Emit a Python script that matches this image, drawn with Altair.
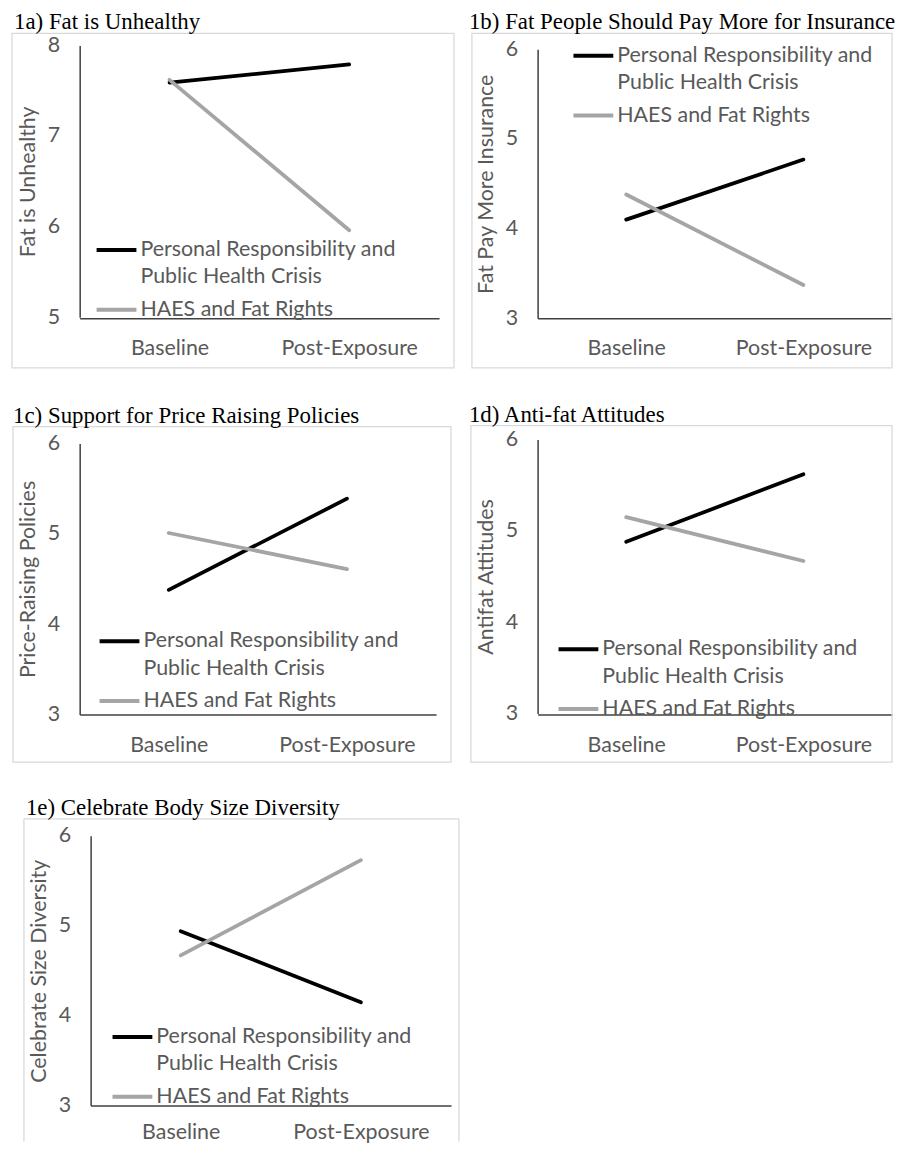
import altair as alt
import pandas as pd

categories = ["Baseline", "Post-Exposure"]
groups = ["Personal Responsibility and Public Health Crisis", "HAES and Fat Rights"]
group_label_lines = ["Personal Responsibility and", "Public Health Crisis"]

titles = [
    "1a) Fat is Unhealthy",
    "1b) Fat People Should Pay More for Insurance",
    "1c) Support for Price Raising Policies",
    "1d) Anti-fat Attitudes",
    "1e) Celebrate Body Size Diversity",
]
y_titles = [
    "Fat is Unhealthy",
    "Fat Pay More Insurance",
    "Price-Raising Policies",
    "Antifat Attitudes",
    "Celebrate Size Diversity",
]
y_domains = [[5, 8], [3, 6], [3, 6], [3, 6], [3, 6]]
y_ticks = [[5, 6, 7, 8], [3, 4, 5, 6], [3, 4, 5, 6], [3, 4, 5, 6], [3, 4, 5, 6]]

pr_values = [[7.59, 7.79], [4.10, 4.77], [4.38, 5.39], [4.88, 5.62], [4.94, 4.15]]
haes_values = [[7.62, 5.96], [4.38, 3.37], [5.01, 4.61], [5.15, 4.67], [4.67, 5.73]]

colors = ["#000000", "#a5a5a5"]

# layout per panel: plot size, pixel ranges, axis shifts, frame offsets, legend position, title shift
layout = [
    dict(w=361, h=274, yr=[273, 0], xr=None, yoff=0, xpad=20, open_bottom=False,
         fx=(-68, 376), fy=(-12, 324), lx=15, ly=183.5, dx=-66),
    dict(w=356, h=274, yr=[274, 4], xr=None, yoff=0, xpad=20, open_bottom=False,
         fx=(-66, 356), fy=(-12, 324), lx=34, ly=-11.5, dx=-69),
    dict(w=358, h=276, yr=[276, 4], xr=None, yoff=0, xpad=20, open_bottom=False,
         fx=(-67, 373), fy=(-13, 324), lx=18, ly=180.5, dx=-67),
    dict(w=356, h=276, yr=[275, 0], xr=None, yoff=0, xpad=20, open_bottom=False,
         fx=(-67, 356), fy=(-14, 324), lx=19, ly=188.5, dx=-69),
    dict(w=373, h=271, yr=None, xr=[11, 373], yoff=-11, xpad=16, open_bottom=True,
         fx=(-56, 381), fy=(-17, 307), lx=31, ly=180, dx=-54),
]

label_expr = (
    f"datum.label == '{groups[0]}' ? ['{group_label_lines[0]}', '{group_label_lines[1]}'] : datum.label"
)

FONT = "Lato"
FS = 21.5
FRAME_COLOR = "#d9d9d9"


def frame_layers(L):
    one = pd.DataFrame({"frame": [0]})
    x0, x1 = L["fx"]
    y0, y1 = L["fy"]
    if not L["open_bottom"]:
        return [alt.Chart(one).mark_rect(
            fillOpacity=0, stroke=FRAME_COLOR, strokeWidth=1.3, clip=False
        ).encode(x=alt.value(x0), x2=alt.value(x1), y=alt.value(y0), y2=alt.value(y1))]
    # panel runs past the bottom of the page: draw top, left and right sides only
    rule = dict(color=FRAME_COLOR, strokeWidth=1.3, clip=False)
    return [
        alt.Chart(one).mark_rule(**rule).encode(
            x=alt.value(x0), x2=alt.value(x1), y=alt.value(y0)),
        alt.Chart(one).mark_rule(**rule).encode(
            x=alt.value(x0), y=alt.value(y0), y2=alt.value(y1)),
        alt.Chart(one).mark_rule(**rule).encode(
            x=alt.value(x1), y=alt.value(y0), y2=alt.value(y1)),
    ]


def panel(i):
    L = layout[i]
    df = pd.DataFrame({
        "Time": categories * 2,
        "Group": [groups[0]] * 2 + [groups[1]] * 2,
        "Value": pr_values[i] + haes_values[i],
    })
    yscale = dict(domain=y_domains[i], nice=False, zero=False)
    if L["yr"] is not None:
        yscale["range"] = L["yr"]
    xscale = dict(type="point", padding=0.5)
    if L["xr"] is not None:
        xscale["range"] = L["xr"]
    lines = alt.Chart(df).mark_line(
        strokeWidth=3.75, strokeCap="round", strokeJoin="round"
    ).encode(
        x=alt.X("Time:N", sort=categories, scale=alt.Scale(**xscale),
                axis=alt.Axis(title=None, labelAngle=0, labelPadding=L["xpad"])),
        y=alt.Y("Value:Q", scale=alt.Scale(**yscale),
                axis=alt.Axis(title=y_titles[i], values=y_ticks[i], offset=L["yoff"])),
        color=alt.Color("Group:N", sort=groups,
                        scale=alt.Scale(domain=groups, range=colors),
                        legend=alt.Legend(
                            title=None, orient="none",
                            legendX=L["lx"], legendY=L["ly"],
                            symbolType="stroke", symbolSize=1600,
                            symbolStrokeWidth=4,
                            labelExpr=label_expr,
                        )),
    )
    return alt.layer(*frame_layers(L), lines).properties(
        width=L["w"], height=L["h"],
        title=alt.TitleParams(titles[i], dx=L["dx"]),
    )


chart = alt.concat(
    *[panel(i) for i in range(5)],
    columns=2, bounds="flush", align="each",
    spacing={"row": 122, "column": 87},
).resolve_scale(color="independent").resolve_legend(color="independent").properties(
    padding={"left": 3, "top": 0, "right": 0, "bottom": 0},
    background="white",
).configure(
    style={"guide-label": {"lineHeight": 27.5}}
).configure_view(
    strokeWidth=0
).configure_axis(
    domainColor="#404040", domainWidth=1.5, ticks=False, tickSize=0, grid=False,
    labelFont=FONT, labelFontSize=FS, labelColor="#595959",
    titleFont=FONT, titleFontSize=FS, titleColor="#595959", titleFontWeight="normal",
).configure_axisY(
    labelPadding=20, titlePadding=8,
).configure_legend(
    labelFont=FONT, labelFontSize=FS, labelColor="#595959",
    labelOffset=2, labelLimit=600, rowPadding=0, padding=0,
).configure_title(
    font="Liberation Serif", fontSize=23, fontWeight="normal", color="#000000",
    anchor="start", frame="group", baseline="alphabetic", offset=-1.5,
)

chart.save("out.html", embed_options={"renderer": "svg", "actions": False})
